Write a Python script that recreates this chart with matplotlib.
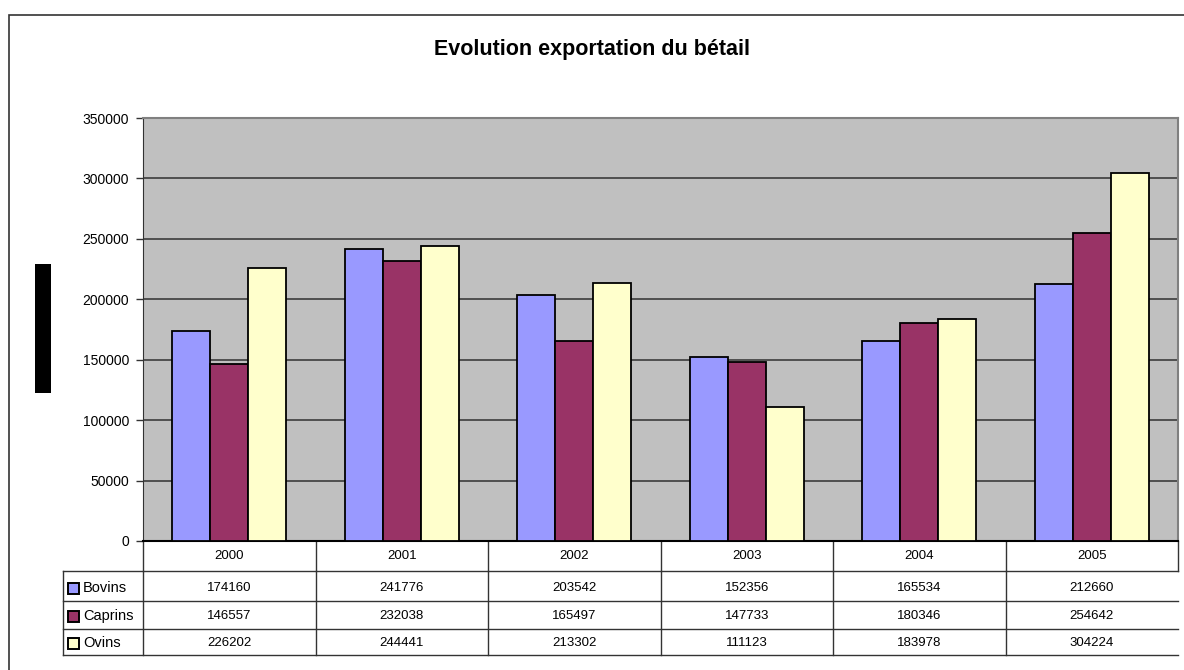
import numpy as np
import matplotlib
matplotlib.use("Agg")
import matplotlib.pyplot as plt
from matplotlib import transforms
from matplotlib.patches import Rectangle

plt.rcParams['font.family'] = ['Liberation Sans', 'DejaVu Sans']

annees = ["2000", "2001", "2002", "2003", "2004", "2005"]
series = ["Bovins", "Caprins", "Ovins"]
bovins = [174160, 241776, 203542, 152356, 165534, 212660]
caprins = [146557, 232038, 165497, 147733, 180346, 254642]
ovins = [226202, 244441, 213302, 111123, 183978, 304224]
couleurs = ["#9999FF", "#993366", "#FFFFCC"]

W, H = 1184, 670
fig = plt.figure(figsize=(W/100, H/100), dpi=100)

def fy(y):  # pixel y -> figure fraction
    return 1 - y/H

# cadre du graphique
fig.patches.append(Rectangle((9/W, fy(700)), 1.2, (700-15)/H, transform=fig.transFigure,
                             fill=False, ec="#333333", lw=1.2))
# le bloc noir a gauche
fig.patches.append(Rectangle((35/W, fy(393)), 16/W, (393-264)/H, transform=fig.transFigure,
                             fc="black", ec="none"))

left, right, top, bot = 143, 1178, 118, 541
ax = fig.add_axes([left/W, fy(bot), (right-left)/W, (bot-top)/H])
ax.set_facecolor("#C0C0C0")

x = np.arange(len(annees))
w = 0.22
for k, vals in enumerate([bovins, caprins, ovins]):
    ax.bar(x + (k-1)*w, vals, w, color=couleurs[k], edgecolor="black", lw=1.3, zorder=3)

ax.set_xlim(-0.5, 5.5)
ax.set_ylim(0, 350000)
ax.set_yticks(np.arange(0, 350001, 50000))
ax.set_yticklabels([str(v) for v in range(0, 350001, 50000)], fontsize=10)
ax.set_xticks([])
ax.yaxis.grid(True, color="#3c3c3c", lw=1.2, zorder=1)
ax.tick_params(axis="y", length=5, width=1, color="#333333", pad=5)
for s in ["top", "right"]:
    ax.spines[s].set_color("#808080")
    ax.spines[s].set_linewidth(1.5)
ax.spines["left"].set_color("#333333")
ax.spines["bottom"].set_color("black")
ax.spines["bottom"].set_linewidth(1.5)

fig.text(0.5, fy(50), "Evolution exportation du bétail", ha="center", va="center",
         fontsize=15.5, fontweight="bold")

# tableau de donnees sous le graphique
tr = transforms.blended_transform_factory(ax.transData, fig.transFigure)
xl = -0.5 - (left-63)/((right-left)/6)
lc = "#333333"
bornes = np.arange(-0.5, 6.0, 1.0)
for b in bornes:
    ax.plot([b, b], [fy(541), fy(571)], color=lc, lw=1, transform=tr, clip_on=False)
    if b < 5.5:
        ax.plot([b, b], [fy(571), fy(655)], color=lc, lw=1, transform=tr, clip_on=False)
ax.plot([xl, xl], [fy(571), fy(655)], color=lc, lw=1, transform=tr, clip_on=False)
for yl in [571, 601, 629, 655]:
    ax.plot([xl, 5.5], [fy(yl), fy(yl)], color=lc, lw=1, transform=tr, clip_on=False)

for i, a in enumerate(annees):
    ax.text(i, fy(556), a, ha="center", va="center", fontsize=9.5, transform=tr)

ylignes = [588, 616, 643]
for k, (nom, vals) in enumerate(zip(series, [bovins, caprins, ovins])):
    yc = ylignes[k]
    fig.patches.append(Rectangle((68/W, fy(yc+6)), 11/W, 11/H, transform=fig.transFigure,
                                 fc=couleurs[k], ec="black", lw=1.4))
    fig.text(83/W, fy(yc), nom, ha="left", va="center", fontsize=10.5)
    for i, v in enumerate(vals):
        ax.text(i, fy(yc), str(v), ha="center", va="center", fontsize=9.5, transform=tr)

fig.savefig("out.png", dpi=100)
